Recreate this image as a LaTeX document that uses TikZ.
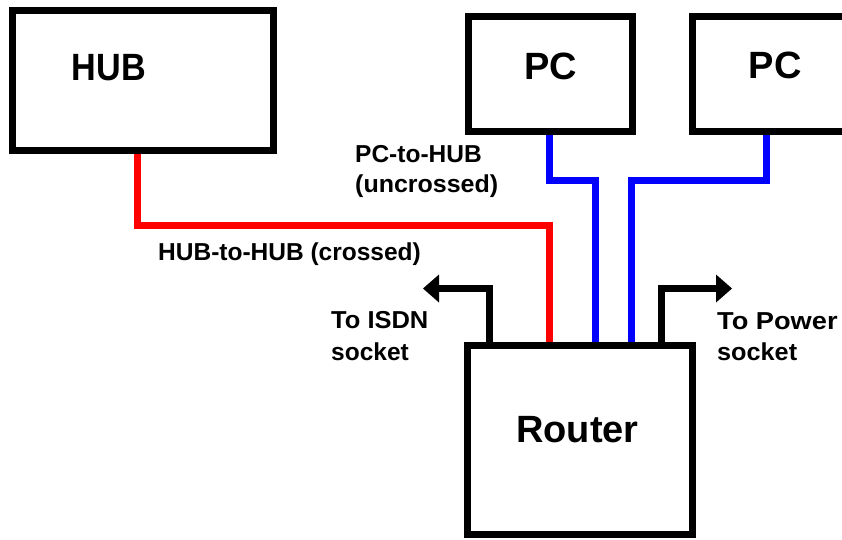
\documentclass[tikz,border=0pt]{standalone}
\usepackage{fontspec}
\setmainfont{Liberation Sans}
\usetikzlibrary{arrows.meta}
\begin{document}
\begin{tikzpicture}[x=1pt,y=-1pt,
  box/.style={draw=black,line width=7pt,outer sep=3.5pt,inner sep=0pt,rectangle},
  bigtxt/.style={font=\fontsize{38}{44}\selectfont\bfseries,inner sep=0pt,anchor=base west},
  smalltxt/.style={font=\fontsize{24.5}{30}\selectfont\bfseries,inner sep=0pt,anchor=base west},
  redcable/.style={draw=red,line width=7pt},
  bluecable/.style={draw=blue,line width=7pt},
  outlink/.style={draw=black,line width=7pt,-{Triangle[length=16pt,width=28pt,line width=0pt]}}]
\useasboundingbox (0,0) rectangle (842,539);
\clip (0,0) rectangle (842,539);
\fill[white] (0,0) rectangle (842,539);

% boxes
\node[box,minimum width=260.5pt,minimum height=139.5pt] (hub) at (142.75,80.25) {};
\node[box,minimum width=163.7pt,minimum height=114.8pt] (pc1) at (550.65,74.2) {};
\node[box,minimum width=208pt,minimum height=114.8pt] (pc2) at (796,74.2) {};
\node[box,minimum width=224.5pt,minimum height=189.3pt] (router) at (579.75,439.65) {};

% box labels
\node[bigtxt] (hubtxt) at (71.5,80) {\scalebox{0.9}[1]{HUB}};
\node[bigtxt] (pc1txt) at (524,79) {PC};
\node[bigtxt] (pc2txt) at (748.5,78.5) {PC};
\node[bigtxt] (routertxt) at (516,442) {Router};

% bend points
\coordinate (r1) at (137.5,225.5);
\coordinate (r2) at (549,225.5);
\coordinate (b1a) at (549,180.5);
\coordinate (b1b) at (595,180.5);
\coordinate (b2a) at (766.7,180.5);
\coordinate (b2b) at (631,180.5);
\coordinate (isdnbend) at (489.5,288.5);
\coordinate (isdnend) at (423,288.5);
\coordinate (pwbend) at (661,288.5);
\coordinate (pwend) at (732,288.5);

% cables
\draw[redcable] (r1 |- hub.south) -- (r1) -- (r2) -- (r2 |- router.north);
\draw[bluecable] (b1a |- pc1.south) -- (b1a) -- (b1b) -- (b1b |- router.north);
\draw[bluecable] (b2a |- pc2.south) -- (b2a) -- (b2b) -- (b2b |- router.north);
\draw[outlink] (isdnbend |- router.north) -- (isdnbend) -- (isdnend);
\draw[outlink] (pwbend |- router.north) -- (pwbend) -- (pwend);

% cable labels
\node[smalltxt] (pchub1) at (355,162) {PC-to-HUB};
\node[smalltxt] (pchub2) at (355,192) {\scalebox{1.02}[1]{(uncrossed)}};
\node[smalltxt] (hubhub) at (158,260) {HUB-to-HUB (crossed)};
\node[smalltxt] (isdn1) at (331,328) {\scalebox{1.04}[1]{To ISDN}};
\node[smalltxt] (isdn2) at (331,360) {socket};
\node[smalltxt] (pow1) at (717,329) {\scalebox{1.11}[1]{To Power}};
\node[smalltxt] (pow2) at (717,360) {\scalebox{1.03}[1]{socket}};
\end{tikzpicture}
\end{document}
